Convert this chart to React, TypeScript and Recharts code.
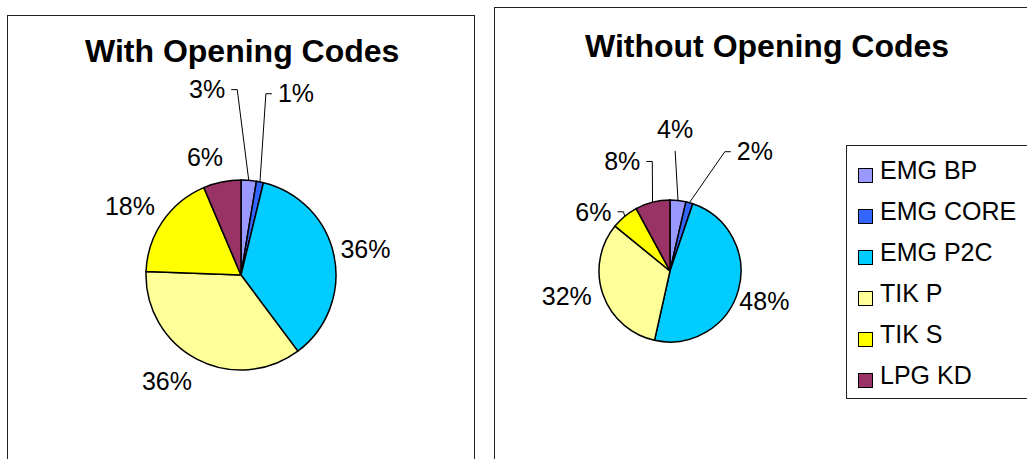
import { PieChart, Pie, Cell } from "recharts";

// categories + slice colours (Excel 2003 palette)
const categories = ["EMG BP", "EMG CORE", "EMG P2C", "TIK P", "TIK S", "LPG KD"];
const colors = ["#9999FF", "#3366FF", "#00CCFF", "#FFFF99", "#FFFF00", "#993366"];

// share of each category, in percent
const withCodes = [2.6, 1.2, 36.0, 35.8, 18.0, 6.4];
const withoutCodes = [3.6, 1.6, 48.3, 32.4, 6.2, 7.9];

const FONT = '"Liberation Sans", Arial, sans-serif';
const LABEL_SIZE = 25;

// label placement: distance beyond the rim, nudge, and which side a leader line attaches to
type LabelSpot = { off: number; dx?: number; dy?: number; leader?: "left" | "right" | "below" };

const withSpots: LabelSpot[] = [
  { off: 91, dx: -49, leader: "left" },
  { off: 90, dx: 18, leader: "right" },
  { off: 32 },
  { off: 32, dx: -15, dy: -6 },
  { off: 35, dx: -4, dy: 5 },
  { off: 25, dx: -12 },
];

const withoutSpots: LabelSpot[] = [
  { off: 72, dx: -11, leader: "below" },
  { off: 53, dx: 51, leader: "right" },
  { off: 27, dy: 4 },
  { off: 35, dx: -3, dy: -9 },
  { off: 24, dx: -16, dy: 14, leader: "left" },
  { off: 42, dx: -20, leader: "left" },
];

function makeLabel(spots: LabelSpot[]) {
  return (props: any) => {
    const { cx, cy, midAngle, outerRadius, percent, index } = props;
    const s = spots[index];
    const rad = (midAngle * Math.PI) / 180;
    const cos = Math.cos(rad);
    const sin = Math.sin(rad);
    const tx = cx + (outerRadius + s.off) * cos + (s.dx ?? 0);
    const ty = cy - (outerRadius + s.off) * sin + (s.dy ?? 0);
    const text = `${Math.round(percent * 100)}%`;
    const w = (0.556 * (text.length - 1) + 0.889) * LABEL_SIZE;

    let line = null;
    if (s.leader) {
      const ax = cx + outerRadius * cos;
      const ay = cy - outerRadius * sin;
      let pts: number[][];
      if (s.leader === "below") {
        pts = [[ax, ay], [tx, ty + 22]];
      } else if (s.leader === "left") {
        const ex = tx + w / 2 + 6;
        pts = [[ax, ay], [ex + 6, ty], [ex, ty]];
      } else {
        const ex = tx - w / 2 - 6;
        pts = [[ax, ay], [ex - 6, ty], [ex, ty]];
      }
      line = (
        <polyline points={pts.map((p) => p.join(",")).join(" ")} fill="none" stroke="#000" strokeWidth={1} />
      );
    }
    return (
      <g key={`lbl-${index}`}>
        {line}
        <text x={tx} y={ty + LABEL_SIZE * 0.35} textAnchor="middle" fontFamily={FONT} fontSize={LABEL_SIZE} fill="#000">
          {text}
        </text>
      </g>
    );
  };
}

const withData = categories.map((name, i) => ({ name, value: withCodes[i] }));
const withoutData = categories.map((name, i) => ({ name, value: withoutCodes[i] }));

const titleStyle = {
  position: "absolute" as const,
  fontFamily: FONT,
  fontWeight: 700,
  fontSize: 32,
  lineHeight: "32px",
  whiteSpace: "nowrap" as const,
  color: "#000",
};

export default function App() {
  return (
    <div style={{ position: "absolute", left: 0, top: 0, width: 1027, height: 459, overflow: "hidden", background: "#fff" }}>
      {/* chart frames */}
      <div style={{ position: "absolute", left: 7, top: 15, width: 468, height: 480, border: "1px solid #222", boxSizing: "border-box" }} />
      <div style={{ position: "absolute", left: 494, top: 7, width: 600, height: 480, border: "1px solid #222", boxSizing: "border-box" }} />

      <div style={{ ...titleStyle, left: 85, top: 35 }}>With Opening Codes</div>
      <div style={{ ...titleStyle, left: 585, top: 30 }}>Without Opening Codes</div>

      <div style={{ position: "absolute", left: 0, top: 0 }}>
        <PieChart width={1027} height={459} margin={{ top: 0, right: 0, bottom: 0, left: 0 }}>
          <Pie
            data={withData}
            dataKey="value"
            nameKey="name"
            cx={241}
            cy={275}
            outerRadius={95}
            startAngle={90}
            endAngle={-270}
            stroke="#000"
            strokeWidth={1.5}
            label={makeLabel(withSpots)}
            labelLine={false}
            isAnimationActive={false}
          >
            {withData.map((d, i) => (
              <Cell key={d.name} fill={colors[i]} />
            ))}
          </Pie>
          <Pie
            data={withoutData}
            dataKey="value"
            nameKey="name"
            cx={670}
            cy={271}
            outerRadius={71}
            startAngle={90}
            endAngle={-270}
            stroke="#000"
            strokeWidth={1.5}
            label={makeLabel(withoutSpots)}
            labelLine={false}
            isAnimationActive={false}
          >
            {withoutData.map((d, i) => (
              <Cell key={d.name} fill={colors[i]} />
            ))}
          </Pie>
        </PieChart>
      </div>

      {/* legend */}
      <div style={{ position: "absolute", left: 846, top: 145, width: 220, height: 254, border: "1px solid #222", boxSizing: "border-box", background: "#fff" }} />
      {categories.map((name, i) => (
        <div key={name}>
          <div
            style={{
              position: "absolute",
              left: 858,
              top: 168 + 41 * i,
              width: 15,
              height: 15,
              background: colors[i],
              border: "1.5px solid #000",
              boxSizing: "border-box",
            }}
          />
          <div
            style={{
              position: "absolute",
              left: 880,
              top: 158 + 41 * i,
              fontFamily: FONT,
              fontSize: 25,
              lineHeight: "25px",
              whiteSpace: "nowrap",
              color: "#000",
            }}
          >
            {name}
          </div>
        </div>
      ))}
    </div>
  );
}
